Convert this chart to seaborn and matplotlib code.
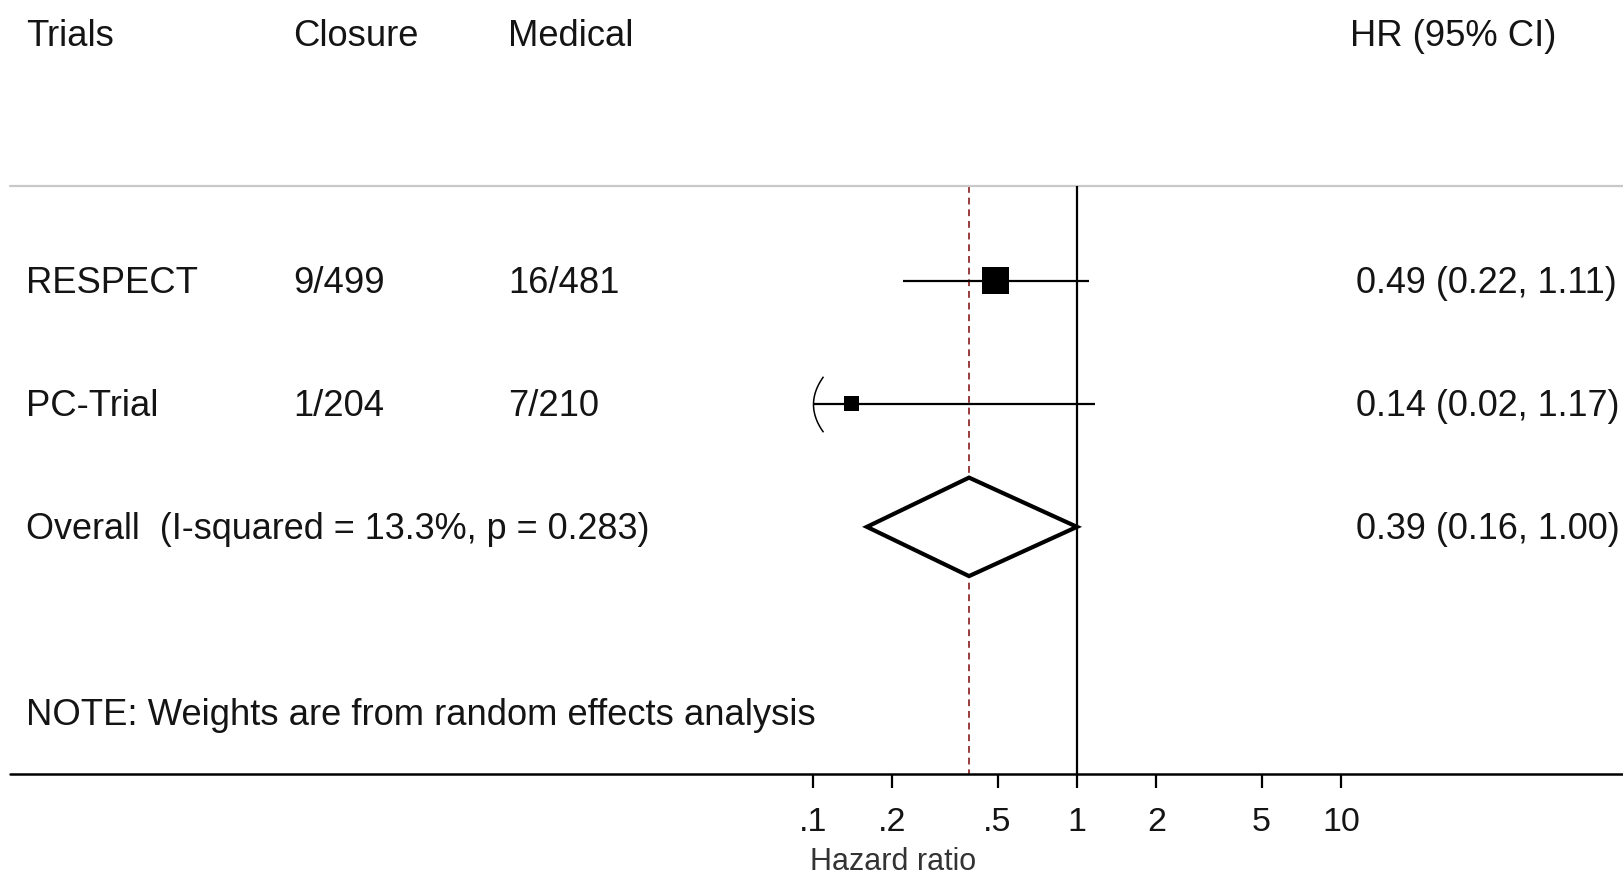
import numpy as np
import pandas as pd
import seaborn as sns
import matplotlib
matplotlib.use('Agg')
import matplotlib.pyplot as plt
from matplotlib.path import Path
from matplotlib.transforms import blended_transform_factory

# study rows
trials = ['RESPECT', 'PC-Trial']
closure = ['9/499', '1/204']
medical = ['16/481', '7/210']
hr = [0.49, 0.14]
ci_lo = [0.22, 0.02]
ci_hi = [1.11, 1.17]
weights = [76.4, 23.6]
hr_text = ['0.49 (0.22, 1.11)', '0.14 (0.02, 1.17)']

# pooled estimate
overall_hr = 0.39
overall_lo = 0.16
overall_hi = 1.00
overall_label = 'Overall  (I-squared = 13.3%, p = 0.283)'
overall_text = '0.39 (0.16, 1.00)'

headers = ['Trials', 'Closure', 'Medical', 'HR (95% CI)']
note = 'NOTE: Weights are from random effects analysis'
xticks = [0.1, 0.2, 0.5, 1, 2, 5, 10]
xtick_labels = ['.1', '.2', '.5', '1', '2', '5', '10']
xlabel = 'Hazard ratio'

sns.set_theme(style='white')
plt.rcParams['font.family'] = ['Liberation Sans', 'DejaVu Sans']

W, H = 1624, 874
fig = plt.figure(figsize=(W / 100, H / 100), dpi=100)
ax = fig.add_axes([0, 0, 1, 1])
ax.set_axis_off()
ax.set_xscale('log')
# 1 at x=1077px, 264px per decade
ax.set_xlim(10 ** (-1077 / 264), 10 ** ((W - 1077) / 264))
ax.set_ylim(4.82, -2.28)

tx = blended_transform_factory(ax.transAxes, ax.transData)
fs = 26.2
fs_val = 25.9
txt_col = '#141414'
dy = 0.02  # small downward nudge for text

# column x positions (fraction of width)
col_x = [0.016, 0.1804, 0.3128, 0.8313]
val_x = 0.835
y_head, y_grey, y_note, y_axis = -2.0, -0.77, 3.51, 4.01
x_lo, x_hi = min(xticks), max(xticks)

for cx, h in zip(col_x, headers):
    ax.text(cx, y_head + dy, h, transform=tx, fontsize=fs, va='center', ha='left', color=txt_col)

ax.plot([10 / W, 1], [y_grey, y_grey], transform=tx, color='#c8c8c8', lw=1.6)

rows = np.arange(len(trials))
for i in rows:
    ax.text(col_x[0], i + dy, trials[i], transform=tx, fontsize=fs, va='center', color=txt_col)
    ax.text(col_x[1], i + dy, closure[i], transform=tx, fontsize=fs, va='center', color=txt_col)
    ax.text(col_x[2], i + dy, medical[i], transform=tx, fontsize=fs, va='center', color=txt_col)
    ax.text(val_x, i + dy, hr_text[i], transform=tx, fontsize=fs_val, va='center', color=txt_col)

y_ov = len(trials)
ax.text(col_x[0], y_ov + dy, overall_label, transform=tx, fontsize=25.9, va='center', color=txt_col)
ax.text(val_x, y_ov + dy, overall_text, transform=tx, fontsize=fs_val, va='center', color=txt_col)
ax.text(col_x[0], y_note + dy, note, transform=tx, fontsize=fs, va='center', color=txt_col)

# null line and pooled estimate line
ax.vlines(1, y_grey, y_axis, color='black', lw=1.6, zorder=2)
ax.vlines(overall_hr, y_grey, y_axis, color='#9a3c3c', lw=1.4,
          linestyles=(0, (3.5, 2.5)), zorder=1)

# confidence intervals, clipped to axis range
lo_c = np.clip(ci_lo, x_lo, x_hi)
hi_c = np.clip(ci_hi, x_lo, x_hi)
ax.hlines(rows, lo_c, hi_c, color='black', lw=1.6, zorder=3)

# arrow-bracket for clipped lower limits
t = np.linspace(-1, 1, 30)
bracket = Path(np.column_stack([0.36 * t ** 2, t]))
for i in rows:
    if ci_lo[i] < x_lo:
        ax.plot(x_lo, i, marker=bracket, markersize=40, color='black',
                markeredgewidth=1.1, fillstyle='none', zorder=3)

df = pd.DataFrame({'hr': hr, 'row': rows, 'w': weights})
sns.scatterplot(data=df, x='hr', y='row', size='w', sizes=(0, 495), size_norm=(0, 100),
                marker='s', color='black', edgecolor='black', linewidth=0,
                legend=False, ax=ax, zorder=4)
ax.set_axis_off()

# pooled diamond
dh = 0.40
ax.fill([overall_lo, overall_hr, overall_hi, overall_hr],
        [y_ov, y_ov - dh, y_ov, y_ov + dh],
        facecolor='white', edgecolor='black', lw=3.0, joinstyle='miter', zorder=5)

# x axis
ax.plot([10 / W, 1], [y_axis, y_axis], transform=tx, color='black', lw=1.8, zorder=2)
ax.vlines(xticks, y_axis, y_axis + 0.115, color='black', lw=1.6)
for v, lab in zip(xticks, xtick_labels):
    ax.text(v, 4.38 + dy, lab, fontsize=24.5, ha='center', va='center', color=txt_col)
ax.text(893 / W, 4.72, xlabel, transform=tx, fontsize=22, ha='center', va='center', color='#333333')

fig.savefig('out.png', dpi=100)
